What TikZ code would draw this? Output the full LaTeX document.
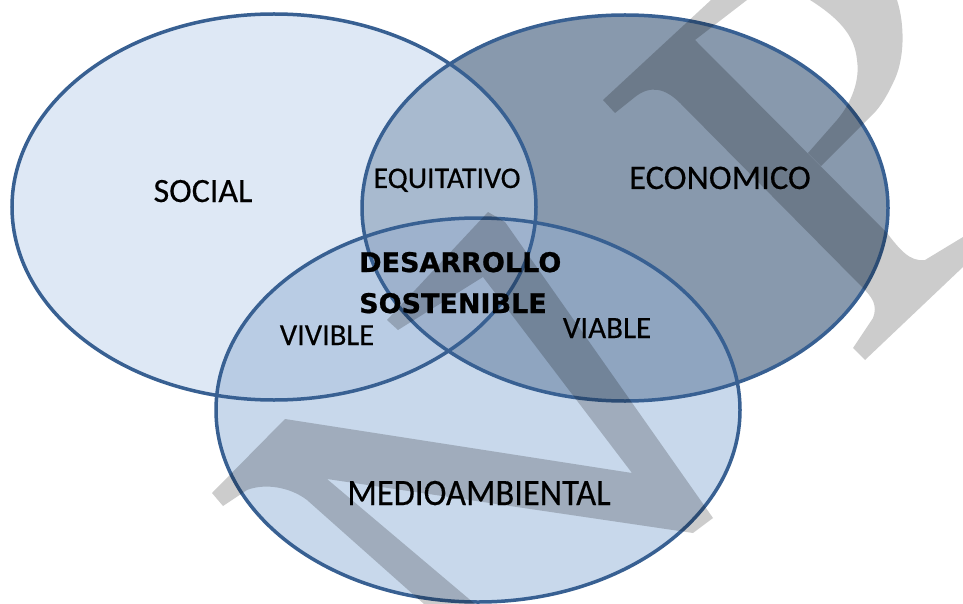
\documentclass[tikz,border=0pt]{standalone}
\usepackage{fontspec}
\setmainfont{Carlito}[FakeBold=0.5]
\newfontfamily\lblfont{Carlito}[FakeBold=0.35]
\newfontfamily\dejavu{DejaVu Sans}[FakeBold=0.8]
\definecolor{cS}{RGB}{222,232,245}
\definecolor{cE}{RGB}{136,153,173}
\definecolor{cM}{RGB}{200,216,235}
\definecolor{cSE}{RGB}{168,186,207}
\definecolor{cSM}{RGB}{185,204,228}
\definecolor{cEM}{RGB}{143,165,192}
\definecolor{cSEM}{RGB}{158,178,205}
\definecolor{ringc}{RGB}{56,96,146}
\begin{document}
\begin{tikzpicture}[x=1pt,y=-1pt,
  socE/.style={insert path={(274,207) ellipse [x radius=262pt, y radius=193pt]}},
  ecoE/.style={insert path={(625,208) ellipse [x radius=263pt, y radius=193pt]}},
  medE/.style={insert path={(478,410) ellipse [x radius=262pt, y radius=192pt]}},
  ring/.style={draw=ringc, line width=3.5pt},
  wm/.style={fill=black, fill opacity=0.2},
  lbl/.style={inner sep=0pt, anchor=base, text=black},
  fsz/.style={font=\lblfont\fontsize{#1}{#1}\selectfont},
]
\useasboundingbox (0,0) rectangle (963,604);
\fill[white] (0,0) rectangle (963,604);
% single regions
\fill[cS, socE];
\fill[cE, ecoE];
\fill[cM, medE];
% pairwise and triple overlaps
\begin{scope}
  \clip[ecoE];
  \fill[cEM, medE];
\end{scope}
\begin{scope}
  \clip[socE];
  \fill[cSE, ecoE];
  \fill[cSM, medE];
  \clip[ecoE];
  \fill[cSEM, medE];
\end{scope}
% outlines
\draw[ring, socE];
\draw[ring, ecoE];
\draw[ring, medE];
% watermark
\fill[wm]
  (603,100) -- (711,0) -- (747,0) -- (695,40) -- (887,233)
  .. controls (900,250) and (910,262) .. (925,260) -- (963,237) -- (963,267)
  -- (865,360) -- (853,348) -- (873,318) .. controls (878,305) and (872,297) .. (862,287)
  -- (680,103) .. controls (665,88) and (650,85) .. (635,97) -- (615,113) -- cycle
  (810,0) -- (897,0) .. controls (905,25) and (905,60) .. (893,83)
  .. controls (885,100) and (878,110) .. (870,117) -- (821,166) -- (808,153) -- (837,120)
  .. controls (852,102) and (860,80) .. (857,60) .. controls (855,40) and (845,22) .. (810,0) -- cycle
  (488,212) -- (505,222) -- (713,518) -- (693,533) -- (327,479) -- (475,604) -- (424,604)
  -- (307,500) .. controls (290,487) and (265,483) .. (247,490) -- (223,506) -- (212,493)
  -- (285,419) -- (632,473) -- (483,277) -- (398,330) -- (387,320) -- cycle;
% labels
\node[lbl, fsz=34] (social) at (203,202) {SOCIAL};
\node[lbl, fsz=30] (equi) at (447,188) {EQUITATIVO};
\node[lbl, fsz=34.5] (eco) at (720,189) {ECONOMICO};
\node[lbl, fsz=30.5] (viv) at (327,345) {VIVIBLE};
\node[lbl, fsz=31] (via) at (607,338) {VIABLE};
\node[lbl, fsz=34.5] (med) at (479,505) {\scalebox{1}[1.08]{MEDIOAMBIENTAL}};
\node[inner sep=0pt, anchor=base west, align=left,
      font=\dejavu\bfseries\fontsize{27}{41}\selectfont] (des) at (359,313) {DESARROLLO\\SOSTENIBLE};
\end{tikzpicture}
\end{document}
